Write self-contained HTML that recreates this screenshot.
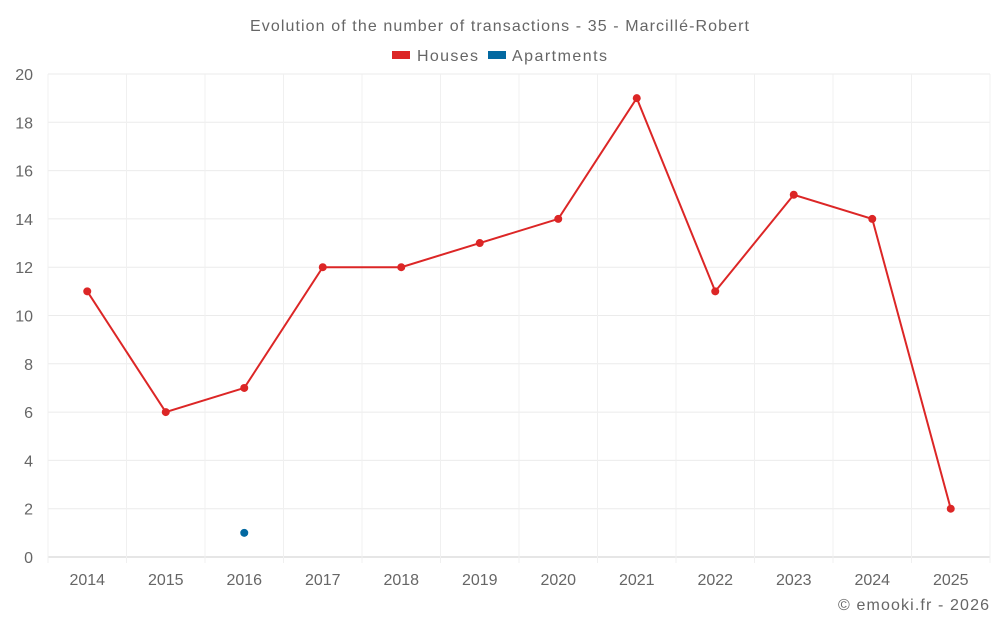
<!DOCTYPE html>
<html><head><meta charset="utf-8"><style>
body{margin:0;background:#fff;font-family:"Liberation Sans",sans-serif;}
svg text{font-family:"Liberation Sans",sans-serif;fill:#666;}
</style></head><body>
<svg id="c" width="1000" height="625">
<text x="250" y="31" textLength="499" font-size="16">Evolution of the number of transactions - 35 - Marcillé-Robert</text>
<g>
<g><rect x="392" y="51" width="18" height="8" fill="#dc2626"/><text x="417" y="61" textLength="61" font-size="16">Houses</text></g>
<g><rect x="488" y="51" width="18" height="8" fill="#0369a1"/><text x="512" y="61" textLength="95" font-size="16">Apartments</text></g>
</g>
<g id="grid"></g><g id="axes"></g><g id="marks"></g>
<text x="838" y="610" textLength="151" font-size="16">© emooki.fr - 2026</text>
</svg>
<script>
const categories=["2014","2015","2016","2017","2018","2019","2020","2021","2022","2023","2024","2025"];
const houses=[11,6,7,12,12,13,14,19,11,15,14,2];
const apartments=[null,null,1,null,null,null,null,null,null,null,null,null];
const yTicks=[0,2,4,6,8,10,12,14,16,18,20];
const L=48,R=990,T=74,B=557,yMax=20;
const bw=(R-L)/categories.length;
const x=i=>L+bw*(i+0.5);
const y=v=>B-(v/yMax)*(B-T);
const ns="http://www.w3.org/2000/svg";
function mk(p,t,a){const e=document.createElementNS(ns,t);for(const k in a)e.setAttribute(k,a[k]);p.appendChild(e);return e;}
const g=document.getElementById('grid'),ax=document.getElementById('axes'),m=document.getElementById('marks');
yTicks.forEach(v=>{
 const l=mk(g,'line',{x1:L,x2:R,y1:y(v),y2:y(v),stroke:v===0?'#ccc':'#ebebeb'});
 
 
 const t=mk(ax,'text',{x:33,y:y(v)+6,'text-anchor':'end','font-size':16});t.textContent=v;
 
 
});
for(let i=0;i<=categories.length;i++){
 const l=mk(g,'line',{x1:L+bw*i,x2:L+bw*i,y1:T,y2:B+6,stroke:'#f0f0f0'});
 
 
}
categories.forEach((c,i)=>{
 const t=mk(ax,'text',{x:x(i),y:585,'text-anchor':'middle','font-size':16});t.textContent=c;
 
 
});
function series(vals,color,name){
 let d='';vals.forEach((v,i)=>{if(v!==null)d+=(d?'L':'M')+x(i)+' '+y(v);});
 const p=mk(m,'path',{d:d,fill:'none',stroke:color,'stroke-width':2});
 
 
 vals.forEach((v,i)=>{if(v===null)return;
  const c=mk(m,'circle',{cx:x(i),cy:y(v),r:4,fill:color});
  
  
 });
}
series(houses,'#dc2626','houses');
series(apartments,'#0369a1','apartments');
</script>
</body></html>
